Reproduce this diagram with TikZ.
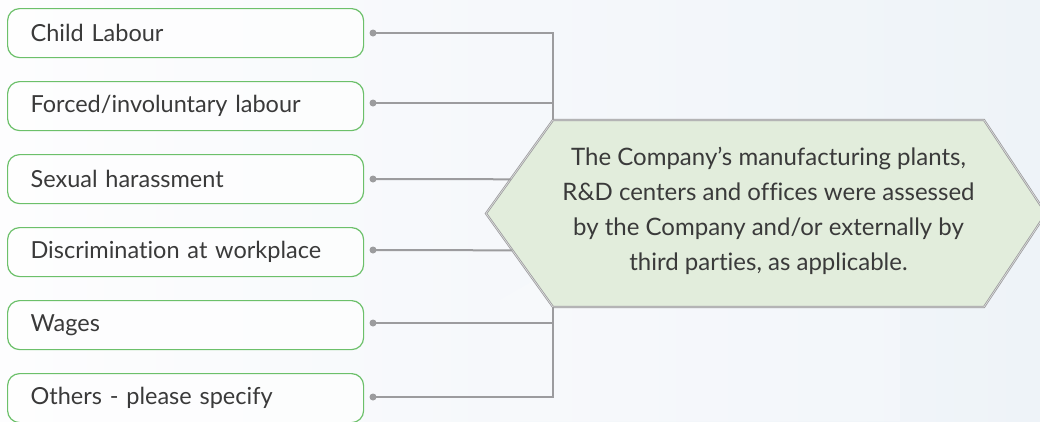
\documentclass[tikz,border=0pt]{standalone}
\usepackage{fontspec}
\setmainfont{Lato}[Ligatures=NoCommon]
\usetikzlibrary{calc}
\definecolor{boxgreen}{HTML}{6CC06A}
\definecolor{txt}{HTML}{3A3A3A}
\definecolor{linegray}{HTML}{9C9C9E}
\definecolor{hexfill}{HTML}{E2EDDC}
\definecolor{bgleft}{HTML}{FDFDFE}
\definecolor{bgright}{HTML}{EEF3F8}
\begin{document}
\begin{tikzpicture}[x=1pt,y=-1pt,
  itembox/.style={draw=boxgreen, line width=1.2pt, rounded corners=12pt, fill=white, fill opacity=0.6, text opacity=1,
    anchor=north west, inner xsep=23pt, inner ysep=0pt, text width=310pt, minimum height=49pt, align=left,
    text=txt, font=\fontsize{23.5}{26}\selectfont},
  dotn/.style={circle, fill=linegray, inner sep=0pt, minimum size=7pt},
  conn/.style={draw=linegray, line width=2pt},
  hextext/.style={text=txt, align=center, font=\fontsize{24}{35}\selectfont}]
\useasboundingbox (0,0) rectangle (1040,421);
\shade[left color=bgleft, right color=bgright] (0,0) rectangle (1040,421);
\fill[white, opacity=0.2] (700,185) -- (900,300) -- (900,421) -- (500,421) -- (500,300) -- cycle;

% boxes
\node[itembox] (b1) at (7,8) {Child Labour};
\node[itembox] (b2) at (7,81) {Forced/involuntary labour};
\node[itembox] (b3) at (7,154) {Sexual harassment};
\node[itembox] (b4) at (7,227) {Discrimination at workplace};
\node[itembox] (b5) at (7,300) {Wages};
\node[itembox] (b6) at (7,373) {Others - please specify};

% dots
\node[dotn] (d1) at (373,33) {};
\node[dotn] (d2) at (373,103) {};
\node[dotn] (d3) at (373,179) {};
\node[dotn] (d4) at (373,250) {};
\node[dotn] (d5) at (373,323) {};
\node[dotn] (d6) at (373,397) {};

% hexagon
\coordinate (hTL) at (553,120);
\coordinate (hTR) at (984,120);
\coordinate (hR) at (1046,213.5);
\coordinate (hBR) at (984,307);
\coordinate (hBL) at (553,307);
\coordinate (hL) at (486,213.5);
\filldraw[fill=hexfill, draw=linegray, line width=2.2pt, line join=miter]
  (hTL) -- (hTR) -- (hR) -- (hBR) -- (hBL) -- (hL) -- cycle;
\draw[white, line width=0.6pt, opacity=0.7, line join=miter]
  (hTL) -- (hTR) -- (hR) -- (hBR) -- (hBL) -- (hL) -- cycle;
\node[hextext] (ht) at (768.5,211) {The Company's manufacturing plants,\\R\&D centers and offices were assessed\\by the Company and/or externally by\\third parties, as applicable.};

\coordinate (e3) at ($(hTL)!0.634!(hL)$);
\coordinate (e4) at ($(hL)!0.394!(hBL)$);
\coordinate (j1) at (553,33);
\coordinate (j2) at (553,103);
\coordinate (j5) at (553,323);
\coordinate (j6) at (553,397);

% connectors
\draw[conn] (d1.center) -- (j1) -- (hTL);
\draw[conn] (d2.center) -- (j2);
\draw[conn] (d3.center) -- (e3);
\draw[conn] (d4.center) -- (e4);
\draw[conn] (d5.center) -- (j5);
\draw[conn] (d6.center) -- (j6) -- (hBL);
\end{tikzpicture}
\end{document}
